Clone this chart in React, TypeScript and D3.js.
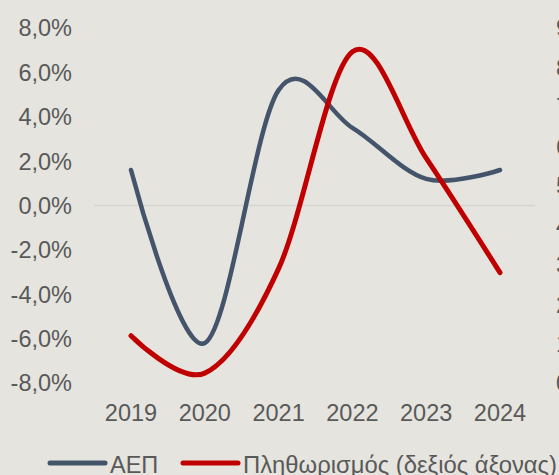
import React from "react";
import * as d3 from "d3";

const years = ["2019", "2020", "2021", "2022", "2023", "2024"];
const gdp = [1.6, -6.2, 5.2, 3.5, 1.2, 1.6];
const inflation = [1.2, 0.25, 2.9, 8.4, 5.7, 2.8];
const leftTicks = [8, 6, 4, 2, 0, -2, -4, -6, -8];
const rightTicks = [9, 8, 7, 6, 5, 4, 3, 2, 1, 0];
const legendLabels = ["ΑΕΠ", "Πληθωρισμός (δεξιός άξονας)"];

const width = 559;
const height = 475;
const bg = "#e5e4df";
const textColor = "#595959";
const blue = "#44546a";
const red = "#c00000";
const font = "'Liberation Sans', Arial, sans-serif";
const fs = 23.5;

export default function App() {
  const x = d3.scalePoint<string>().domain(years).range([131, 500]);
  const yL = d3.scaleLinear().domain([-8, 8]).range([383, 28]);
  const yR = d3.scaleLinear().domain([0, 9]).range([383, 28]);

  // excel-style smoothing
  const gdpLine = d3
    .line<number>()
    .x((_, i) => x(years[i])!)
    .y(d => yL(d))
    .curve(d3.curveCardinal.tension(0));
  const infLine = d3
    .line<number>()
    .x((_, i) => x(years[i])!)
    .y(d => yR(d))
    .curve(d3.curveCardinal.tension(0));

  return (
    <svg
      width={width}
      height={height}
      style={{ position: "absolute", left: 0, top: 0, background: bg }}
      fontFamily={font}
    >
      <rect width={width} height={height} fill={bg} />
      <line x1={94} x2={535} y1={yL(0)} y2={yL(0)} stroke="#d6d5d0" strokeWidth={1.5} />

      {leftTicks.map(t => (
        <text
          key={t}
          x={72}
          y={yL(t)}
          dy="0.36em"
          textAnchor="end"
          fontSize={fs}
          fill={textColor}
        >
          {d3.format(".1f")(t).replace(".", ",").replace("−", "-") + "%"}
        </text>
      ))}

      {rightTicks.map(t => (
        <text key={t} x={556} y={yR(t)} dy="0.36em" fontSize={fs} fill={textColor}>
          {t}
        </text>
      ))}

      {years.map(yr => (
        <text
          key={yr}
          x={x(yr)}
          y={421}
          textAnchor="middle"
          fontSize={fs}
          fill={textColor}
        >
          {yr}
        </text>
      ))}

      <path d={gdpLine(gdp)!} fill="none" stroke={blue} strokeWidth={4.5} strokeLinecap="round" />
      <path d={infLine(inflation)!} fill="none" stroke={red} strokeWidth={5} strokeLinecap="round" />

      <line x1={50} x2={105} y1={463} y2={463} stroke={blue} strokeWidth={5} strokeLinecap="round" />
      <text x={110} y={473} fontSize={fs} fill={textColor}>
        {legendLabels[0]}
      </text>
      <line x1={183} x2={238} y1={463} y2={463} stroke={red} strokeWidth={5} strokeLinecap="round" />
      <text
        x={243}
        y={473}
        fontSize={fs}
        fill={textColor}
        textLength={314}
        lengthAdjust="spacingAndGlyphs"
      >
        {legendLabels[1]}
      </text>
    </svg>
  );
}
